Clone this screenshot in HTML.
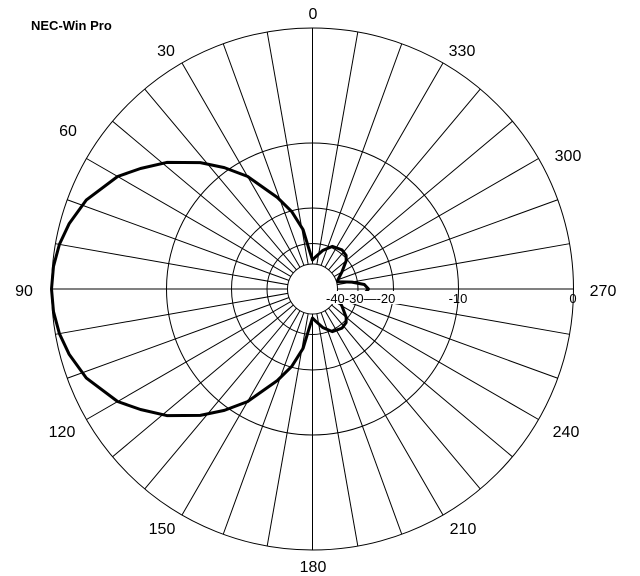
<!DOCTYPE html>
<html><head><style>
html,body{margin:0;padding:0;background:#fff;}
svg{display:block;font-family:"Liberation Sans",Arial,sans-serif;}
</style></head><body>
<svg width="640" height="576" viewBox="0 0 640 576" xmlns="http://www.w3.org/2000/svg">
<rect width="640" height="576" fill="#fff"/>
<g stroke="#000" stroke-width="1" fill="none">
<circle cx="312.5" cy="289" r="261"/>
<circle cx="312.5" cy="289" r="146"/>
<circle cx="312.5" cy="289" r="81"/>
<circle cx="312.5" cy="289" r="45.5"/>
<line x1="312.5" y1="28" x2="312.5" y2="550"/>
<line x1="357.82" y1="31.97" x2="267.18" y2="546.03"/>
<line x1="401.77" y1="43.74" x2="223.23" y2="534.26"/>
<line x1="443" y1="62.97" x2="182" y2="515.03"/>
<line x1="480.27" y1="89.06" x2="144.73" y2="488.94"/>
<line x1="512.44" y1="121.23" x2="112.56" y2="456.77"/>
<line x1="538.53" y1="158.5" x2="86.47" y2="419.5"/>
<line x1="557.76" y1="199.73" x2="67.24" y2="378.27"/>
<line x1="569.53" y1="243.68" x2="55.47" y2="334.32"/>
<line x1="573.5" y1="289" x2="51.5" y2="289"/>
<line x1="569.53" y1="334.32" x2="55.47" y2="243.68"/>
<line x1="557.76" y1="378.27" x2="67.24" y2="199.73"/>
<line x1="538.53" y1="419.5" x2="86.47" y2="158.5"/>
<line x1="512.44" y1="456.77" x2="112.56" y2="121.23"/>
<line x1="480.27" y1="488.94" x2="144.73" y2="89.06"/>
<line x1="443" y1="515.03" x2="182" y2="62.97"/>
<line x1="401.77" y1="534.26" x2="223.23" y2="43.74"/>
<line x1="357.82" y1="546.03" x2="267.18" y2="31.97"/>
</g>
<polygon fill="none" stroke="#000" stroke-width="3" stroke-linejoin="round" points="312.5,260 309.0,249.2 303.1,229.7 291.8,211.7 277.4,197.5 247.5,176.4 224.3,167.6 200.3,162.6 166.8,162.4 140.5,168.5 117.6,176.5 86.4,199.9 69.1,223.8 59.4,244.4 53.5,266.3 51.5,289 53.5,311.7 59.4,333.6 69.1,354.2 86.4,378.1 117.6,401.5 140.5,409.5 166.8,415.6 200.3,415.4 224.3,410.4 247.5,401.6 277.4,380.5 291.8,366.3 303.1,348.3 309.0,328.8 312.5,318 315.3,320.9 322.9,327.6 332.4,331.6 342.0,328.1 346.1,322.6 346.2,317.3 341.9,306 337.9,298.2 337.5,296.2 351.9,295.9 364.3,293.5 368.5,289 364.3,284.5 351.9,282.1 337.5,281.8 337.9,279.8 341.9,272.0 346.2,260.7 346.1,255.4 342.0,249.9 332.4,246.4 322.9,250.4 315.3,257.1"/>
<circle cx="312.5" cy="289" r="25" fill="#fff" stroke="#000" stroke-width="1"/>
<g font-size="16" text-anchor="middle" fill="#000">
<text x="313" y="19">0</text>
<text x="166" y="56">30</text>
<text x="68" y="136">60</text>
<text x="24" y="296">90</text>
<text x="62" y="437">120</text>
<text x="162" y="534">150</text>
<text x="313" y="572">180</text>
<text x="463" y="534">210</text>
<text x="566" y="437">240</text>
<text x="603" y="296">270</text>
<text x="568" y="161">300</text>
<text x="462" y="56">330</text>
</g>
<g font-size="13" fill="#000">
<rect x="326" y="291" width="74" height="13" fill="#fff"/>
<text x="326" y="303">-40-30—-20</text>
<text x="458" y="303" text-anchor="middle">-10</text>
<text x="573" y="303" text-anchor="middle">0</text>
</g>
<text x="31" y="30" font-size="13" font-weight="bold">NEC-Win Pro</text>
</svg>
</body></html>
